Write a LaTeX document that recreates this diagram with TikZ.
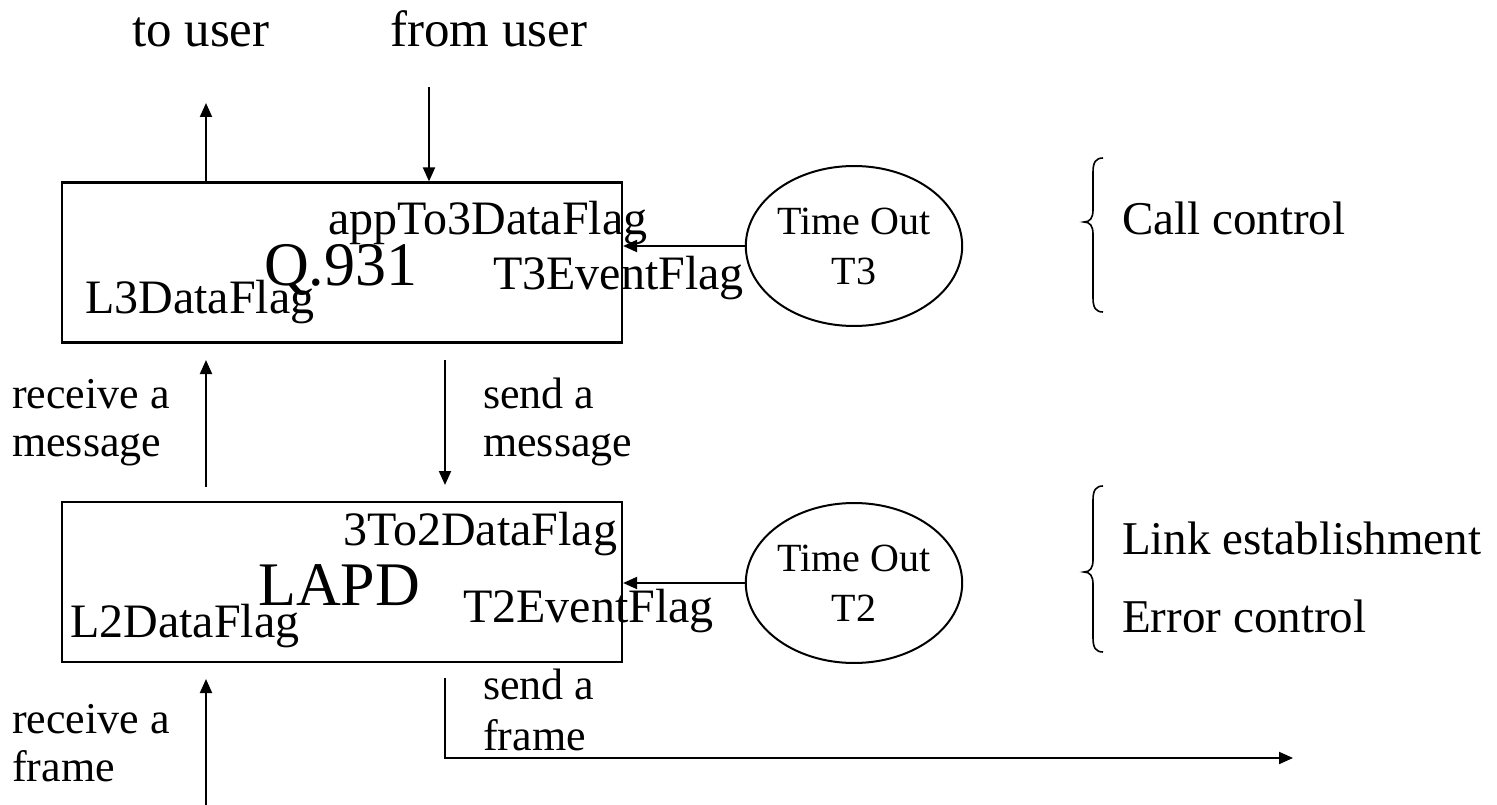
\documentclass[tikz,border=0pt]{standalone}
\usepackage{fontspec}
\setmainfont{Liberation Serif}
\usetikzlibrary{arrows.meta,shapes.geometric}
\begin{document}
\begin{tikzpicture}[x=1pt,y=-1pt,
  box/.style={draw, line width=2.2pt, minimum width=560pt, minimum height=160pt, inner sep=0pt},
  tmr/.style={draw, line width=2pt, ellipse, minimum width=208pt, minimum height=160pt, inner sep=0pt, align=center, font=\fontsize{40}{50}\selectfont},
  arr/.style={line width=2pt, -{Triangle[length=14pt,width=12pt]}},
  brc/.style={line width=1.6pt},
  lbl/.style={anchor=base west, inner sep=0pt, font=\fontsize{48}{58}\selectfont},
  big/.style={anchor=base west, inner sep=0pt, font=\fontsize{62}{74}\selectfont},
  top/.style={anchor=base west, inner sep=0pt, font=\fontsize{51}{60}\selectfont},
  side/.style={anchor=base west, inner sep=0pt, font=\fontsize{44}{52}\selectfont},
  grp/.style={anchor=base west, inner sep=0pt, font=\fontsize{47}{56}\selectfont}]
\useasboundingbox (0,0) rectangle (1497,805);

% boxes
\node[box] (q931) at (342,262.5) {};
\node[box] (lapd) at (342,582) {};

% box texts
\node[lbl] (appflag) at (328,235) {appTo3DataFlag};
\node[big] (qname) at (264,285) {Q.931};
\node[lbl] (t3flag) at (493,290) {T3EventFlag};
\node[lbl] (l3flag) at (85,313) {L3DataFlag};

\node[lbl] (l32flag) at (343,545) {3To2DataFlag};
\node[big] (lname) at (258,605) {LAPD};
\node[lbl] (t2flag) at (463,622) {T2EventFlag};
\node[lbl] (l2flag) at (70,637) {L2DataFlag};

% timers
\node[tmr] (t3) at (854,246) {Time Out\\T3};
\node[tmr] (t2) at (854,583) {Time Out\\T2};

% top labels
\node[top] (touser) at (132,47) {to user};
\node[top] (fromuser) at (390,47) {from user};

% top arrows
\coordinate (toU) at (206,103);
\coordinate (fromU) at (429,87);
\draw[arr] (q931.north -| toU) -- (toU);
\draw[arr] (fromU) -- (fromU |- q931.north);

% timer arrows
\draw[arr] (t3.west) -- (t3.west -| q931.east);
\draw[arr] (t2.west) -- (t2.west -| lapd.east);

% between boxes
\coordinate (rmA) at (206,487);
\coordinate (rmB) at (206,360);
\coordinate (smA) at (445,360);
\coordinate (smB) at (445,485);
\draw[arr] (rmA) -- (rmB);
\draw[arr] (smA) -- (smB);
\node[side] (rm1) at (12,408) {receive a};
\node[side] (rm2) at (12,456) {message};
\node[side] (sm1) at (483,408) {send a};
\node[side] (sm2) at (483,456) {message};

% bottom
\coordinate (rfA) at (206,805);
\coordinate (rfB) at (206,679);
\draw[arr] (rfA) -- (rfB);
\coordinate (sfA) at (445,678);
\coordinate (sfC) at (445,758);
\coordinate (sfB) at (1293,758);
\draw[arr] (sfA) -- (sfC) -- (sfB);
\node[side] (rf1) at (12,733) {receive a};
\node[side] (rf2) at (12,781) {frame};
\node[side] (sf1) at (483,699) {send a};
\node[side] (sf2) at (483,750) {frame};

% braces
\draw[brc] (1103,158) .. controls (1096,158) and (1093,162) .. (1093,172) -- (1093,210)
  .. controls (1093,218) and (1090,222) .. (1084,222)
  .. controls (1090,222) and (1093,226) .. (1093,234) -- (1093,298)
  .. controls (1093,308) and (1096,312) .. (1103,312);
\draw[brc] (1103,486) .. controls (1096,486) and (1093,490) .. (1093,500) -- (1093,560)
  .. controls (1093,568) and (1090,572) .. (1084,572)
  .. controls (1090,572) and (1093,576) .. (1093,584) -- (1093,638)
  .. controls (1093,648) and (1096,652) .. (1103,652);
\node[grp] (callc) at (1122,235) {Call control};
\node[grp] (linke) at (1122,554) {Link establishment};
\node[grp] (errc) at (1122,632) {Error control};
\end{tikzpicture}
\end{document}
